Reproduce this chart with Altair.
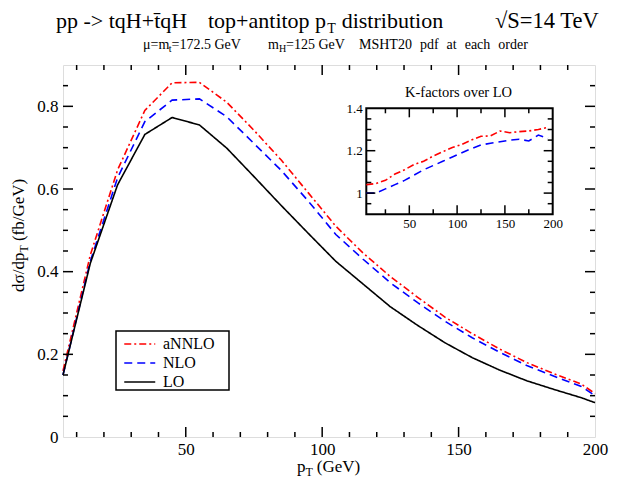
import altair as alt
import pandas as pd

# ---------------- data ----------------
pt = [5, 15, 25, 35, 45, 55, 65, 75, 85, 95, 105, 115, 125, 135, 145, 155, 165, 175, 185, 195, 200]
lo = [0.15, 0.42, 0.61, 0.732, 0.773, 0.755, 0.699, 0.63, 0.56, 0.492, 0.425, 0.37,
      0.315, 0.27, 0.228, 0.192, 0.162, 0.136, 0.115, 0.095, 0.083]
nlo = [0.15, 0.425, 0.627, 0.763, 0.815, 0.818, 0.775, 0.71, 0.645, 0.57, 0.49, 0.43,
       0.373, 0.325, 0.28, 0.24, 0.205, 0.173, 0.147, 0.122, 0.1]
annlo = [0.16, 0.44, 0.646, 0.79, 0.857, 0.858, 0.81, 0.742, 0.67, 0.59, 0.51, 0.445,
         0.388, 0.338, 0.29, 0.25, 0.213, 0.18, 0.153, 0.128, 0.105]

k_pt = [5, 15, 25, 35, 45, 55, 65, 75, 85, 95, 105, 115, 125, 135, 145, 155, 165, 175, 185, 195]
k_nlo = [1.0, 1.0, 1.02, 1.04, 1.06, 1.085, 1.11, 1.13, 1.15, 1.17, 1.19, 1.21,
         1.227, 1.235, 1.242, 1.25, 1.254, 1.246, 1.274, 1.258]
k_annlo = [1.04, 1.045, 1.06, 1.09, 1.11, 1.135, 1.15, 1.175, 1.195, 1.215, 1.23, 1.25,
           1.268, 1.27, 1.293, 1.285, 1.29, 1.293, 1.3, 1.31]

series_names = ["aNNLO", "NLO", "LO"]
series_colors = ["#ff0000", "#0000ff", "#000000"]
series_dashes = [[7, 3, 2, 3], [8, 5], [1, 0]]

main_x_major = [50, 100, 150]
main_x_minor = [10, 20, 30, 40, 60, 70, 80, 90, 110, 120, 130, 140, 160, 170, 180, 190]
main_y_major = [0.2, 0.4, 0.6, 0.8]
main_y_minor = [0.05, 0.1, 0.15, 0.25, 0.3, 0.35, 0.45, 0.5, 0.55, 0.65, 0.7, 0.75, 0.85]
main_x_labels = [50, 100, 150, 200]
main_y_labels = [0, 0.2, 0.4, 0.6, 0.8]

ins_x_major = [50, 100, 150]
ins_x_minor = [25, 75, 125, 175]
ins_y_major = [1.0, 1.2]
ins_y_minor = [0.95, 1.05, 1.1, 1.15, 1.25, 1.3, 1.35]
ins_x_labels = [50, 100, 150, 200]
ins_y_labels = [1, 1.2, 1.4]

# ---------------- layout ----------------
FONT = "Liberation Serif"
W, H = 532, 372
X0, Y0 = 63, 65  # page position of plot origin

MAIN_X = [5, 200]
MAIN_Y = [0, 0.9]
INS_X = [5, 200]
INS_Y = [0.9, 1.4]
INS_XR = [366.3 - X0, 552.7 - X0]
INS_YR = [214.3 - Y0, 108.3 - Y0]

TW = {' ': 250, '(': 333, ')': 333, '/': 278, '-': 333, '>': 564, '+': 564,
      '=': 564, '.': 250, 'a': 444, 'b': 500, 'c': 444, 'd': 500, 'e': 444, 'f': 333,
      'g': 500, 'h': 500, 'i': 278, 'l': 278, 'm': 778, 'n': 500, 'o': 500, 'p': 500,
      'q': 500, 'r': 333, 's': 389, 't': 278, 'u': 500, 'v': 500, 'A': 722, 'G': 722,
      'H': 722, 'L': 611, 'M': 889, 'N': 722, 'O': 722, 'S': 556, 'T': 611, 'V': 722,
      'K': 722, '\u03c3': 550, '\u03bc': 500, '\u221a': 549, '\u0304': 0}


def tw(s, size):
    return sum(TW.get(c, 500) for c in s) * size / 1000.0


def text_layer(txt, x, y, size, angle=0, align="left"):
    return alt.Chart(alt.Data(values=[{"k": 0}])).mark_text(
        text=txt, font=FONT, fontSize=size, align=align, baseline="alphabetic",
        angle=angle, color="black").encode(x=alt.value(x), y=alt.value(y))


def run_h(pieces, px, py):
    """pieces: (text, size, baseline shift, gap before)"""
    out = []
    x = px - X0
    for t, s, dy, gap in pieces:
        x += gap
        out.append(text_layer(t, x, py - Y0 + dy, s))
        x += tw(t, s)
    return out


def run_v(pieces, px, py):
    out = []
    y = py - Y0
    for t, s, dx, gap in pieces:
        y -= gap
        out.append(text_layer(t, px - X0 + dx, y, s, angle=270))
        y -= tw(t, s)
    return out


def ticks_x(vals, sdom, srange, ydom, yrange, yval, length):
    sc = alt.Scale(domain=sdom, range=srange) if srange else alt.Scale(domain=sdom)
    yc = alt.Scale(domain=ydom, range=yrange) if yrange else alt.Scale(domain=ydom)
    return alt.Chart(pd.DataFrame({"v": vals})).mark_rule(
        color="black", strokeWidth=1.5, y2Offset=length).encode(
        x=alt.X("v:Q", scale=sc, axis=None),
        y=alt.YDatum(yval, scale=yc, axis=None),
        y2=alt.Y2Datum(yval))


def ticks_y(vals, sdom, srange, xdom, xrange, xval, length):
    sc = alt.Scale(domain=sdom, range=srange) if srange else alt.Scale(domain=sdom)
    xc = alt.Scale(domain=xdom, range=xrange) if xrange else alt.Scale(domain=xdom)
    return alt.Chart(pd.DataFrame({"v": vals})).mark_rule(
        color="black", strokeWidth=1.5, x2Offset=length).encode(
        y=alt.Y("v:Q", scale=sc, axis=None),
        x=alt.XDatum(xval, scale=xc, axis=None),
        x2=alt.X2Datum(xval))


# ---------------- main curves ----------------
main_df = pd.DataFrame({
    "pt": pt * 3,
    "val": annlo + nlo + lo,
    "order": ["aNNLO"] * len(pt) + ["NLO"] * len(pt) + ["LO"] * len(pt),
})

LEG_X, LEG_Y, LEG_W, LEG_H = 116 - X0, 331 - Y0, 113, 59

leg = dict(title=None, orient="none", legendX=LEG_X, legendY=LEG_Y,
           padding=4, symbolType="M-1,0H3", symbolSize=240, symbolStrokeWidth=1.6,
           symbolOffset=3, labelFont=FONT, labelFontSize=16, labelOffset=22,
           rowPadding=2, labelColor="black")

main = alt.Chart(main_df).mark_line(strokeWidth=1.6).encode(
    x=alt.X("pt:Q", scale=alt.Scale(domain=MAIN_X, nice=False, zero=False),
            axis=alt.Axis(values=main_x_labels, ticks=False, tickSize=0, domain=False,
                          grid=False, labelFont=FONT, labelFontSize=17, labelPadding=4,
                          labelFlush=False, labelOverlap=False, labelColor="black",
                          title=None)),
    y=alt.Y("val:Q", scale=alt.Scale(domain=MAIN_Y, nice=False),
            axis=alt.Axis(values=main_y_labels, ticks=False, tickSize=0, domain=False,
                          grid=False, labelFont=FONT, labelFontSize=17, labelPadding=5,
                          format=".1~f", labelFlush=False, labelOverlap=False,
                          labelColor="black", title=None)),
    color=alt.Color("order:N", scale=alt.Scale(domain=series_names, range=series_colors),
                    legend=alt.Legend(**leg)),
    strokeDash=alt.StrokeDash("order:N",
                              scale=alt.Scale(domain=series_names, range=series_dashes),
                              legend=alt.Legend(**leg)),
)

legend_box = alt.Chart(alt.Data(values=[{"k": 0}])).mark_rect(
    fill="white", stroke="black", strokeWidth=1.5).encode(
    x=alt.value(LEG_X), x2=alt.value(LEG_X + LEG_W),
    y=alt.value(LEG_Y), y2=alt.value(LEG_Y + LEG_H))

MJ, MN = 10, 5
main_ticks = [
    ticks_x(main_x_major, MAIN_X, None, MAIN_Y, None, 0, -MJ),
    ticks_x(main_x_minor, MAIN_X, None, MAIN_Y, None, 0, -MN),
    ticks_x(main_x_major, MAIN_X, None, MAIN_Y, None, 0.9, MJ),
    ticks_x(main_x_minor, MAIN_X, None, MAIN_Y, None, 0.9, MN),
    ticks_y(main_y_major, MAIN_Y, None, MAIN_X, None, 5, MJ),
    ticks_y(main_y_minor, MAIN_Y, None, MAIN_X, None, 5, MN),
    ticks_y(main_y_major, MAIN_Y, None, MAIN_X, None, 200, -MJ),
    ticks_y(main_y_minor, MAIN_Y, None, MAIN_X, None, 200, -MN),
]

# ---------------- inset ----------------
ins_df = pd.DataFrame({
    "pt": k_pt * 2,
    "k": k_annlo + k_nlo,
    "order": ["aNNLO"] * len(k_pt) + ["NLO"] * len(k_pt),
})

inset = alt.Chart(ins_df).mark_line(strokeWidth=1.6).encode(
    x=alt.X("pt:Q", scale=alt.Scale(domain=INS_X, range=INS_XR, nice=False, zero=False),
            axis=alt.Axis(orient="bottom", offset=INS_YR[0] - H, values=ins_x_labels,
                          ticks=False, tickSize=0, domain=False, grid=False,
                          labelFont=FONT, labelFontSize=13, labelPadding=3,
                          labelFlush=False, labelOverlap=False, labelColor="black",
                          title=None)),
    y=alt.Y("k:Q", scale=alt.Scale(domain=INS_Y, range=INS_YR, nice=False, zero=False),
            axis=alt.Axis(orient="left", offset=-INS_XR[0], values=ins_y_labels,
                          ticks=False, tickSize=0, domain=False, grid=False,
                          labelFont=FONT, labelFontSize=13, labelPadding=4,
                          format=".1~f", labelFlush=False, labelOverlap=False,
                          labelColor="black", title=None)),
    color=alt.Color("order:N", scale=alt.Scale(domain=series_names, range=series_colors),
                    legend=None),
    strokeDash=alt.StrokeDash("order:N",
                              scale=alt.Scale(domain=series_names, range=series_dashes),
                              legend=None),
)

frame_df = pd.DataFrame({"x": [INS_X[0]], "x2": [INS_X[1]], "y": [INS_Y[0]], "y2": [INS_Y[1]]})
inset_frame = alt.Chart(frame_df).mark_rect(fillOpacity=0, stroke="black", strokeWidth=2).encode(
    x=alt.X("x:Q", scale=alt.Scale(domain=INS_X, range=INS_XR), axis=None),
    x2="x2:Q",
    y=alt.Y("y:Q", scale=alt.Scale(domain=INS_Y, range=INS_YR), axis=None),
    y2="y2:Q",
)

IJ, IN = 9, 5
inset_ticks = [
    ticks_x(ins_x_major, INS_X, INS_XR, INS_Y, INS_YR, INS_Y[0], -IJ),
    ticks_x(ins_x_minor, INS_X, INS_XR, INS_Y, INS_YR, INS_Y[0], -IN),
    ticks_x(ins_x_major, INS_X, INS_XR, INS_Y, INS_YR, INS_Y[1], IJ),
    ticks_x(ins_x_minor, INS_X, INS_XR, INS_Y, INS_YR, INS_Y[1], IN),
    ticks_y(ins_y_major, INS_Y, INS_YR, INS_X, INS_XR, INS_X[0], IJ),
    ticks_y(ins_y_minor, INS_Y, INS_YR, INS_X, INS_XR, INS_X[0], IN),
    ticks_y(ins_y_major, INS_Y, INS_YR, INS_X, INS_XR, INS_X[1], -IJ),
    ticks_y(ins_y_minor, INS_Y, INS_YR, INS_X, INS_XR, INS_X[1], -IN),
]

# ---------------- texts ----------------
texts = []
texts += run_h([("pp -> tqH+t\u0304qH", 22, 0, 0)], 56, 28)
texts += run_h([("top+antitop p", 22, 0, 0), ("T", 14, 5, 1),
                ("distribution", 22, 0, 6)], 208, 28)
texts += run_h([("\u221aS=14 TeV", 22.5, 0, 0)], 495, 28)
texts += run_h([("\u03bc=m", 14, 0, 0), ("t", 10, 3, 0), ("=172.5 GeV", 14, 0, 0)], 143, 49)
texts += run_h([("m", 14, 0, 0), ("H", 10, 3, 0), ("=125 GeV", 14, 0, 0)], 268, 49)
texts += run_h([("MSHT20", 14, 0, 0), ("pdf", 14, 0, 8), ("at", 14, 0, 8),
                ("each", 14, 0, 8), ("order", 14, 0, 8)], 359, 49)
texts += run_h([("p", 17, 0, 0), ("T", 12, 4, 0), ("(GeV)", 17, 0, 4)], 297, 472)
texts += run_v([("d\u03c3/dp", 17, 0, 0), ("T", 12, 4, 0), ("(fb/GeV)", 17, 0, 4)], 24, 292)
texts += run_h([("K-factors over LO", 14.5, 0, 0)], 405, 97)

layers = [main] + main_ticks + [inset_frame, inset] + inset_ticks + [legend_box] + texts

chart = alt.layer(*layers).resolve_scale(
    x="independent", y="independent", color="independent", strokeDash="independent"
).resolve_axis(x="independent", y="independent").properties(
    width=W, height=H,
    autosize=alt.AutoSizeParams(type="none"),
    padding={"left": 55, "top": 57, "right": 19, "bottom": 45},
).configure_view(stroke="black", strokeWidth=2).configure(background="white")

chart.save("out.html", embed_options={"renderer": "svg", "actions": False})
